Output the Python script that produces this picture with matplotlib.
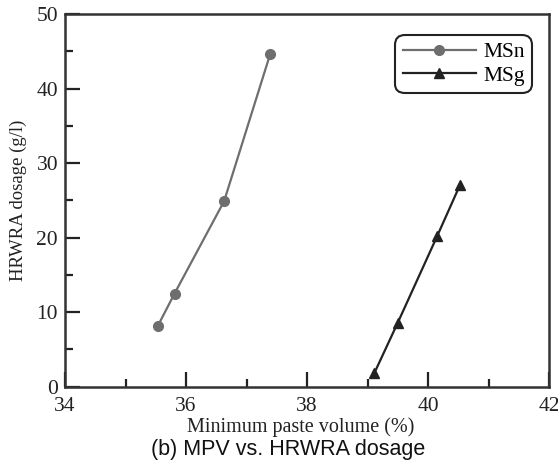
import matplotlib
matplotlib.use("Agg")
import matplotlib.pyplot as plt
from matplotlib.ticker import MultipleLocator

# paste volume (%) vs HRWRA dosage (g/l)
msn_mpv = [35.53, 35.81, 36.63, 37.39]
msn_dose = [8.1, 12.5, 24.9, 44.6]
msg_mpv = [39.11, 39.50, 40.15, 40.53]
msg_dose = [1.8, 8.6, 20.2, 27.1]

plt.rcParams['font.family'] = ['Liberation Serif', 'DejaVu Serif']

fig = plt.figure(figsize=(5.58, 4.66), dpi=100)
ax = fig.add_axes([0.1165, 0.170, 0.8675, 0.800])

ax.plot(msn_mpv, msn_dose, color='#6e6e6e', lw=1.6, marker='o', ms=7, label='MSn')
ax.plot(msg_mpv, msg_dose, color='#222222', lw=1.6, marker='^', ms=7, label='MSg')

ax.set_xlim(34, 42)
ax.set_ylim(0, 50)
ax.xaxis.set_major_locator(MultipleLocator(2))
ax.xaxis.set_minor_locator(MultipleLocator(1))
ax.yaxis.set_major_locator(MultipleLocator(10))
ax.yaxis.set_minor_locator(MultipleLocator(5))
ax.tick_params(which='both', direction='in', top=False, right=False,
               width=1.6, labelsize=15.5, colors='#222222')
ax.tick_params(which='major', length=11)
ax.tick_params(which='minor', length=6)
ax.tick_params(axis='x', pad=7)
ax.tick_params(axis='y', pad=5)
for s in ax.spines.values():
    s.set_linewidth(1.8)
    s.set_color('#333333')

ax.set_xlabel('Minimum paste volume (%)', fontsize=14.5, labelpad=1, color='#222222')
ax.xaxis.label.set_x(0.487)
ax.set_ylabel('HRWRA dosage (g/l)', fontsize=13.5, labelpad=7, color='#222222')

leg = ax.legend(loc='upper right', bbox_to_anchor=(0.965, 0.944), borderaxespad=0,
                fontsize=15.5, handlelength=3.4, handletextpad=0.33, borderpad=0.35,
                labelspacing=0.15, fancybox=True, framealpha=1)
leg.get_frame().set_edgecolor('#222222')
leg.get_frame().set_linewidth(1.5)
leg.get_frame().set_boxstyle('round', pad=0.0, rounding_size=0.45)

fig.text(0.516, 0.012, '(b) MPV vs. HRWRA dosage', ha='center', va='bottom',
         fontsize=15.5, family=['Liberation Sans', 'DejaVu Sans'], color='#111111')

fig.savefig('out.png', dpi=100)
